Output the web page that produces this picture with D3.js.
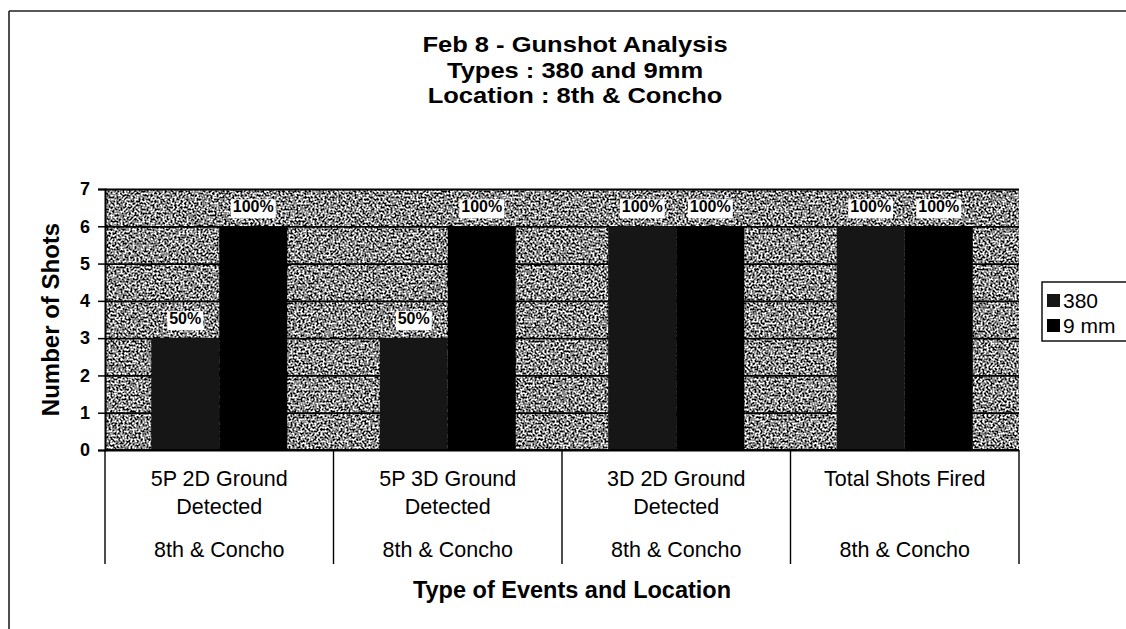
<!DOCTYPE html>
<html>
<head>
<meta charset="utf-8">
<script src="https://cdn.jsdelivr.net/npm/d3@7"></script>
<style>
  body { margin: 0; background: #fff; }
  svg { display: block; font-family: 'Liberation Sans', Arial, sans-serif; }
</style>
</head>
<body>
<div id="chart"></div>
<script>
const titleLines = ['Feb 8 - Gunshot Analysis', 'Types : 380 and 9mm', 'Location : 8th & Concho']
const categoryLines = [
  ['5P 2D Ground', 'Detected'],
  ['5P 3D Ground', 'Detected'],
  ['3D 2D Ground', 'Detected'],
  ['Total Shots Fired']
]
const locations = ['8th & Concho', '8th & Concho', '8th & Concho', '8th & Concho']
const seriesNames = ['380', '9 mm']
const shots380 = [3, 3, 6, 6]
const shots9mm = [6, 6, 6, 6]
const labels380 = ['50%', '50%', '100%', '100%']
const labels9mm = ['100%', '100%', '100%', '100%']
const yTicks = [0, 1, 2, 3, 4, 5, 6, 7]
const yTitle = 'Number of Shots'
const xTitle = 'Type of Events and Location'

const W = 1126
const H = 629
const colors = ['#161616', '#000000']
const margin = { top: 189, right: 107, bottom: 179, left: 105 }
const width = W - margin.left - margin.right
const height = H - margin.top - margin.bottom

const svg = d3.select('#chart').append('svg').attr('width', W).attr('height', H)

// grain for the scanned plot background
const defs = svg.append('defs')
const filt = defs.append('filter').attr('id', 'grain')
  .attr('x', 0).attr('y', 0).attr('width', 1).attr('height', 1)
  .attr('color-interpolation-filters', 'sRGB')
filt.append('feTurbulence').attr('type', 'fractalNoise')
  .attr('baseFrequency', 0.5).attr('numOctaves', 3).attr('seed', 7).attr('result', 'n')
filt.append('feColorMatrix').attr('in', 'n').attr('type', 'matrix')
  .attr('values', '3.4 0 0 0 -1.16  3.4 0 0 0 -1.16  3.4 0 0 0 -1.16  0 0 0 0 1')

// outer frame (scan edge)
svg.append('line').attr('x1', 9).attr('x2', W).attr('y1', 11).attr('y2', 11)
  .attr('stroke', '#222').attr('stroke-width', 1.6)
svg.append('line').attr('x1', 9).attr('x2', 9).attr('y1', 11).attr('y2', H)
  .attr('stroke', '#222').attr('stroke-width', 1.6)

const data = categoryLines.map((c, i) => ({
  index: i,
  values: [
    { key: seriesNames[0], value: shots380[i], label: labels380[i] },
    { key: seriesNames[1], value: shots9mm[i], label: labels9mm[i] }
  ]
}))

const x0 = d3.scaleBand().domain(d3.range(categoryLines.length)).range([0, width])
const x1 = d3.scaleBand().domain(seriesNames).range([0, x0.bandwidth()]).paddingOuter(0.68)
const y = d3.scaleLinear().domain([0, 7]).range([height, 0])
const colorScale = d3.scaleOrdinal().domain(seriesNames).range(colors)

const g = svg.append('g').attr('transform', 'translate(' + margin.left + ',' + margin.top + ')')

g.append('rect').attr('width', width).attr('height', height)
  .attr('fill', '#8c8c8c').attr('filter', 'url(#grain)')

// gridlines
g.append('g').attr('class', 'grid')
  .call(d3.axisLeft(y).tickValues(yTicks).tickSize(-width).tickFormat(''))
  .call(s => s.select('.domain').remove())
  .selectAll('line').attr('stroke', '#000').attr('stroke-width', 1.8)

// bars
const group = g.selectAll('.group').data(data).enter().append('g')
  .attr('class', 'group')
  .attr('transform', d => 'translate(' + x0(d.index) + ',0)')

group.selectAll('rect').data(d => d.values).enter().append('rect')
  .attr('x', d => x1(d.key))
  .attr('y', d => y(d.value))
  .attr('width', x1.bandwidth())
  .attr('height', d => y(0) - y(d.value))
  .attr('fill', d => colorScale(d.key))

// data labels with white boxes
const lab = group.selectAll('.lab').data(d => d.values).enter().append('g').attr('class', 'lab')
const labText = lab.append('text')
  .attr('x', d => x1(d.key) + x1.bandwidth() / 2)
  .attr('y', d => y(d.value) - 14)
  .attr('text-anchor', 'middle')
  .attr('font-size', 16).attr('font-weight', 'bold')
  .text(d => d.label)
labText.each(function() {
  const b = this.getBBox()
  d3.select(this.parentNode).insert('rect', 'text')
    .attr('x', b.x - 2).attr('y', b.y + 1)
    .attr('width', b.width + 4).attr('height', b.height + 2)
    .attr('fill', '#fff')
})

// y axis
const yAxis = g.append('g').attr('class', 'axis axis--y')
  .call(d3.axisLeft(y).tickValues(yTicks).tickFormat(d3.format('d')).tickSize(7).tickPadding(8))
yAxis.select('.domain').attr('stroke', '#000').attr('stroke-width', 2)
yAxis.selectAll('line').attr('stroke', '#000').attr('stroke-width', 1.5)
yAxis.selectAll('text').attr('font-size', 18).attr('font-weight', 'bold').attr('fill', '#000')
  .attr('font-family', "'Liberation Sans', Arial, sans-serif")

// x axis baseline and category dividers
g.append('line').attr('x1', 0).attr('x2', width).attr('y1', height).attr('y2', height)
  .attr('stroke', '#000').attr('stroke-width', 2)
const edges = x0.domain().map(d => x0(d)).concat([x0.range()[1]])
g.selectAll('.divider').data(edges).enter().append('line')
  .attr('class', 'divider')
  .attr('x1', d => d).attr('x2', d => d)
  .attr('y1', height).attr('y2', height + 114)
  .attr('stroke', '#000').attr('stroke-width', 1.4)

const catLabel = g.selectAll('.cat').data(data).enter().append('text')
  .attr('class', 'cat')
  .attr('text-anchor', 'middle')
  .attr('font-size', 21.5)
  .attr('transform', d => 'translate(' + (x0(d.index) + x0.bandwidth() / 2) + ',' + (height + 36) + ')')
catLabel.selectAll('tspan').data(d => categoryLines[d.index]).enter().append('tspan')
  .attr('x', 0).attr('dy', (d, i) => i ? 28 : 0).text(d => d)

g.selectAll('.loc').data(data).enter().append('text')
  .attr('class', 'loc')
  .attr('text-anchor', 'middle').attr('font-size', 21.5)
  .attr('x', d => x0(d.index) + x0.bandwidth() / 2)
  .attr('y', height + 107)
  .text(d => locations[d.index])

// axis titles
g.append('text').attr('text-anchor', 'middle').attr('font-size', 23.5).attr('font-weight', 'bold')
  .attr('x', width / 2 + 10).attr('y', height + 148).text(xTitle)
g.append('text').attr('text-anchor', 'middle').attr('font-size', 24).attr('font-weight', 'bold')
  .attr('transform', 'translate(' + (-46) + ',' + (height / 2) + ') rotate(-90)')
  .text(yTitle)

// chart title, one text per line, slightly widened like the scan
svg.append('g').attr('class', 'title')
  .selectAll('text').data(titleLines).enter().append('text')
  .attr('text-anchor', 'middle').attr('font-size', 22).attr('font-weight', 'bold')
  .attr('transform', (d, i) => 'translate(575,' + (52 + i * 25.5) + ') scale(1.16,1)')
  .text(d => d)

// legend
const legend = svg.append('g').attr('class', 'legend').attr('transform', 'translate(1042,282)')
legend.append('rect').attr('width', 100).attr('height', 59)
  .attr('fill', '#fff').attr('stroke', '#000').attr('stroke-width', 1.4)
const item = legend.selectAll('.item').data(seriesNames).enter().append('g')
  .attr('class', 'item')
  .attr('transform', (d, i) => 'translate(5,' + (12 + i * 25) + ')')
item.append('rect').attr('width', 13).attr('height', 13).attr('fill', d => colorScale(d))
item.append('text').attr('x', 16).attr('y', 14).attr('font-size', 21).text(d => d)
</script>
</body>
</html>
